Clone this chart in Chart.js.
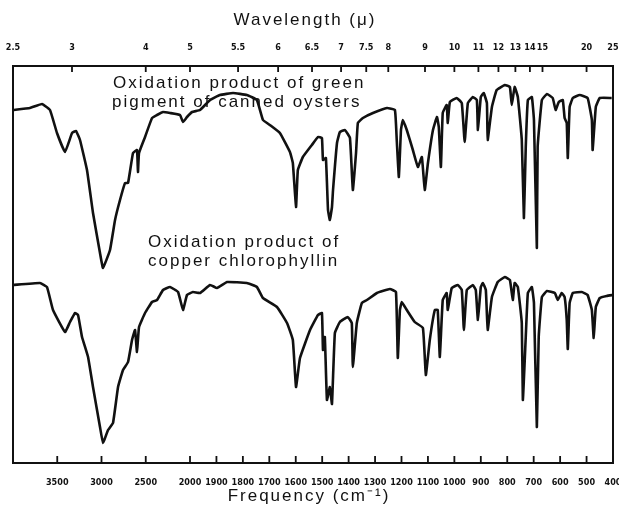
<!DOCTYPE html>
<html>
<head>
<meta charset="utf-8">
<script src="https://cdn.jsdelivr.net/npm/chart.js@4.4.1/dist/chart.umd.min.js"></script>
<style>
  html, body { margin: 0; background: #fff; }
</style>
</head>
<body>
<canvas id="chart" width="619" height="509"></canvas>
<script>
// upper trace: green pigment of canned oysters (wavenumber cm-1 / trace height)
const topWn = [4000,3808,3672,3582,3503,3412,3333,3288,3243,3164,
  3096,3017,2983,2904,2847,2791,2734,2700,2644,2599,
  2588,2576,2508,2429,2373,2305,2226,2113,2079,2034,
  1992,1962,1924,1887,1837,1785,1747,1724,1698,1660,
  1622,1611,1599,1592,1573,1539,1516,1501,1497,1486,
  1478,1471,1463,1459,1444,1433,1414,1395,1384,1372,
  1365,1346,1308,1255,1225,1218,1210,1202,1195,1180,
  1157,1138,1123,1112,1100,1081,1066,1059,1051,1044,
  1029,1025,1017,991,972,961,949,930,915,911,
  900,889,877,874,858,840,809,790,783,772,
  760,745,737,730,722,707,699,688,685,669,
  650,628,617,605,590,583,575,571,564,552,
  526,496,480,477,465,450,405];
const topT = [353,355,359,353,330,311,330,332,323,293,
  250,210,195,213,243,263,280,280,310,313,
  291,310,326,345,348,351,350,348,341,346,
  351,353,363,368,370,368,363,343,338,330,
  311,300,256,293,306,318,326,325,303,305,
  253,243,256,273,320,331,333,325,273,310,
  340,345,350,355,353,323,286,333,343,333,
  313,296,306,273,300,333,346,336,296,350,
  358,340,361,365,360,321,360,366,363,333,
  366,370,360,323,356,373,378,376,358,376,
  366,323,245,316,363,366,343,215,316,363,
  369,365,353,361,363,345,340,305,356,365,
  368,365,343,313,356,365,365];

// lower trace: copper chlorophyllin
const botWn = [4000,3695,3616,3548,3412,3356,3299,3265,3220,3152,
  3096,3017,2983,2926,2870,2813,2757,2700,2655,2621,
  2599,2576,2508,2429,2373,2305,2226,2135,2079,2034,
  1989,1962,1924,1898,1860,1785,1747,1724,1671,1633,
  1611,1599,1584,1546,1516,1501,1497,1490,1482,1471,
  1463,1452,1433,1403,1388,1384,1369,1350,1331,1293,
  1244,1221,1214,1206,1199,1180,1150,1119,1108,1093,
  1074,1063,1055,1044,1029,1025,1010,987,972,964,
  953,930,919,911,900,892,881,874,858,836,
  809,790,779,772,760,745,741,730,722,707,
  699,688,681,669,650,620,609,594,583,575,
  571,564,552,518,496,480,473,465,450,424,
  400];
const botT = [178,180,176,153,131,141,150,148,126,106,
  76,36,20,33,40,76,93,101,123,133,
  111,136,150,161,163,173,176,171,153,168,
  171,170,178,175,181,180,176,165,156,140,
  123,76,105,133,148,150,113,126,63,76,
  59,130,141,146,140,96,140,160,163,170,
  174,171,105,153,161,153,141,135,88,123,
  153,153,106,163,170,153,175,178,173,133,
  173,178,173,143,176,180,173,133,166,181,
  186,183,163,180,176,140,63,126,170,176,
  160,36,126,166,172,170,163,170,166,143,
  114,160,170,171,168,153,125,156,165,167,
  168];

const freqTicks = [3500,3000,2500,2000,1900,1800,1700,1600,1500,1400,1300,1200,1100,1000,900,800,700,600,500,400];
const waveTicks = [2.5,3,4,5,5.5,6,6.5,7,7.5,8,9,10,11,12,13,14,15,20,25];

// chart paper changes scale at 2000 cm-1 (4000-2000 squeezed into ~30% of the width)
const SPLIT = 0.295;

class IrScale extends Chart.LinearScale {
    static id = 'ir';
    static defaults = {};
    buildTicks() {
        const list = this.id === 'top' ? waveTicks.map(w => 10000 / w) : freqTicks;
        return list.map(v => ({ value: v }));
    }
    frac(v) {
        if (v >= 2000) return (4000 - v) / 2000 * SPLIT;
        return SPLIT + (2000 - v) / 1600 * (1 - SPLIT);
    }
    getPixelForValue(v) {
        return this.left + this.frac(v) * this.width;
    }
    getValueForPixel(p) {
        const f = (p - this.left) / this.width;
        if (f <= SPLIT) return 4000 - f / SPLIT * 2000;
        return 2000 - (f - SPLIT) / (1 - SPLIT) * 1600;
    }
}
Chart.register(IrScale);

const tickFont = { family: '"DejaVu Sans Condensed", sans-serif', size: 9, weight: 'bold' };

// labels written on the paper, anchored at wavenumber / height
const notes = [
    { text: 'Oxidation product of green', wn: 2870, y: 380 },
    { text: 'pigment of canned oysters', wn: 2881, y: 361 },
    { text: 'Oxidation product of', wn: 2474, y: 221 },
    { text: 'copper chlorophyllin', wn: 2474, y: 202 }
];

const paper = {
    id: 'paper',
    afterDraw(chart) {
        const { ctx, chartArea: a, scales } = chart;
        ctx.save();
        ctx.strokeStyle = '#111';
        ctx.lineWidth = 2;
        ctx.strokeRect(a.left, a.top, a.right - a.left, a.bottom - a.top);

        // inward tick marks
        ctx.lineWidth = 1.8;
        ctx.beginPath();
        scales.x.ticks.forEach((t, i) => {
            const p = scales.x.getPixelForTick(i);
            ctx.moveTo(p, a.bottom);
            ctx.lineTo(p, a.bottom - 7);
        });
        scales.top.ticks.forEach((t, i) => {
            const p = scales.top.getPixelForTick(i);
            ctx.moveTo(p, a.top);
            ctx.lineTo(p, a.top + 6);
        });
        ctx.stroke();

        ctx.fillStyle = '#111';
        ctx.textBaseline = 'middle';
        ctx.letterSpacing = '2px';
        ctx.font = '17px "Liberation Sans", Arial, sans-serif';
        ctx.textAlign = 'left';
        notes.forEach(n => {
            ctx.fillText(n.text, scales.x.getPixelForValue(n.wn), scales.y.getPixelForValue(n.y));
        });

        ctx.textAlign = 'center';
        ctx.fillText('Wavelength (\u03bc)', 305, 20);
        ctx.fillText('Frequency (cm\u207b\u00b9)', 309, 496);
        ctx.restore();
    }
};

new Chart(document.getElementById('chart'), {
    type: 'line',
    data: {
        datasets: [
            { label: 'Oxidation product of green pigment of canned oysters',
              data: topWn.map((w, i) => ({ x: w, y: topT[i] })) },
            { label: 'Oxidation product of copper chlorophyllin',
              data: botWn.map((w, i) => ({ x: w, y: botT[i] })) }
        ]
    },
    options: {
        responsive: false,
        animation: false,
        layout: { padding: { left: 13, right: 6, top: 0, bottom: 0 } },
        elements: {
            line: { borderColor: '#111', borderWidth: 2.6, tension: 0.1 },
            point: { radius: 0 }
        },
        plugins: { legend: { display: false }, tooltip: { enabled: false } },
        scales: {
            x: {
                type: 'ir', position: 'bottom', min: 400, max: 4000,
                grid: { display: false },
                border: { display: false },
                ticks: { autoSkip: false, maxRotation: 0, padding: 6, color: '#111', font: tickFont,
                         callback: v => String(v) },
                afterFit: s => { s.height = 46; s.paddingLeft = 0; s.paddingRight = 0; }
            },
            top: {
                type: 'ir', position: 'top', axis: 'x', min: 400, max: 4000,
                grid: { display: false },
                border: { display: false },
                ticks: { autoSkip: false, maxRotation: 0, padding: 5, color: '#111', font: tickFont,
                         callback: (v, i) => String(waveTicks[i]) },
                afterFit: s => { s.height = 66; s.paddingLeft = 0; s.paddingRight = 0; }
            },
            y: { min: 0, max: 397, display: false }
        }
    },
    plugins: [paper]
});
</script>
</body>
</html>
